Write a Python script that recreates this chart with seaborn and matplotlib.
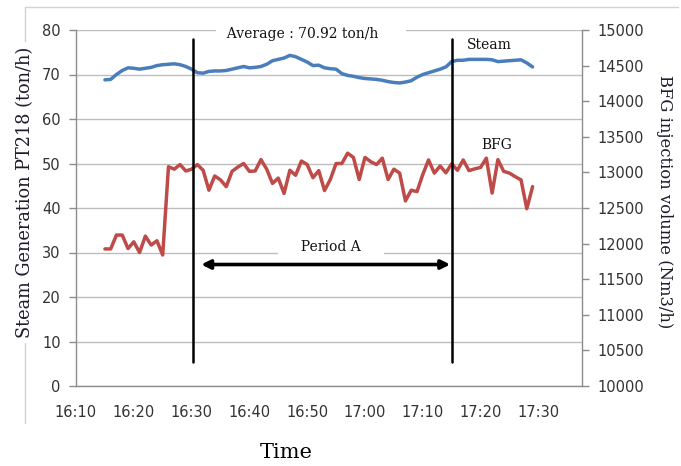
import matplotlib
matplotlib.use("Agg")
import matplotlib.pyplot as plt
import matplotlib.dates as mdates
from matplotlib.lines import Line2D
import seaborn as sns
import pandas as pd
import numpy as np

# ---------------- data ----------------
start_time = "2000-01-01 16:15"
n_points = 75  # one sample per minute, 16:15 .. 17:29

steam = [68.8, 68.9, 70.0, 70.9, 71.5, 71.4, 71.2, 71.4, 71.6, 72.0,
         72.2, 72.3, 72.4, 72.2, 71.8, 71.2, 70.4, 70.3, 70.7, 70.8,
         70.8, 70.9, 71.2, 71.5, 71.8, 71.5, 71.6, 71.8, 72.3, 73.1,
         73.4, 73.7, 74.3, 74.0, 73.4, 72.8, 72.0, 72.1, 71.5, 71.3,
         71.2, 70.2, 69.8, 69.6, 69.3, 69.1, 69.0, 68.9, 68.7, 68.4,
         68.2, 68.1, 68.3, 68.6, 69.4, 70.0, 70.4, 70.8, 71.2, 71.7,
         72.9, 73.2, 73.2, 73.4, 73.4, 73.4, 73.4, 73.3, 72.9, 73.0,
         73.1, 73.2, 73.3, 72.6, 71.7]

bfg = [11925, 11925, 12120, 12120, 11930, 12025, 11875, 12105, 11980, 12040,
       11840, 13080, 13045, 13110, 13020, 13045, 13110, 13030, 12750, 12950,
       12895, 12800, 13015, 13075, 13125, 13015, 13020, 13180, 13045, 12845,
       12920, 12705, 13030, 12960, 13160, 13110, 12925, 13025, 12745, 12900,
       13125, 13125, 13270, 13210, 12900, 13210, 13150, 13110, 13200, 12900,
       13045, 12990, 12600, 12750, 12730, 12970, 13175, 12990, 13090, 12995,
       13120, 13030, 13175, 13025, 13050, 13070, 13200, 12710, 13180, 13015,
       12990, 12940, 12895, 12490, 12800]

x_tick_labels = ["16:10", "16:20", "16:30", "16:40", "16:50",
                 "17:00", "17:10", "17:20", "17:30"]
left_ticks = [0, 10, 20, 30, 40, 50, 60, 70, 80]
right_ticks = [10000, 10500, 11000, 11500, 12000, 12500, 13000, 13500, 14000, 14500, 15000]

period_start = "2000-01-01 16:30:18"
period_end = "2000-01-01 17:15:00"
arrow_start = "2000-01-01 16:31:40"
arrow_end = "2000-01-01 17:14:45"
average_text = "Average : 70.92 ton/h"

times = pd.date_range(start_time, periods=n_points, freq="1min")
df = pd.DataFrame({"time": times, "steam": steam, "bfg": bfg})

def T(s):
    return mdates.date2num(pd.Timestamp(s))

# ---------------- figure ----------------
sns.set_style("white")
plt.rcParams["font.family"] = ["DejaVu Sans"]

fig = plt.figure(figsize=(6.81, 4.66), dpi=100)
ax = fig.add_axes([76 / 681, 1 - 386 / 466, (581.7 - 76) / 681, (386 - 30) / 466])
ax2 = ax.twinx()

grid_c = "#BDBDBD"
spine_c = "#8C8C8C"
steam_c = "#4A7EBB"
bfg_c = "#BE4B48"
tick_c = "#333333"
serif = ["DejaVu Serif"]

sns.lineplot(data=df, x="time", y="steam", ax=ax, color=steam_c, lw=2.5, zorder=4)
sns.lineplot(data=df, x="time", y="bfg", ax=ax2, color=bfg_c, lw=2.5, zorder=4)

ax.set_ylim(0, 80)
ax2.set_ylim(10000, 15000)
ax.set_xlim(T("2000-01-01 16:10"), T("2000-01-01 17:37:30"))
ax.set_yticks(left_ticks)
ax2.set_yticks(right_ticks)
ax.xaxis.set_major_locator(mdates.MinuteLocator(byminute=[0, 10, 20, 30, 40, 50]))
ax.xaxis.set_major_formatter(mdates.DateFormatter("%H:%M"))

ax.set_xlabel("")
ax.set_ylabel("")
ax2.set_ylabel("")

ax.yaxis.grid(True, color=grid_c, lw=1)
ax.set_axisbelow(True)

for a in (ax, ax2):
    for s in a.spines.values():
        s.set_visible(False)
ax.spines["left"].set_visible(True)
ax.spines["bottom"].set_visible(True)
ax2.spines["right"].set_visible(True)
for s in (ax.spines["left"], ax.spines["bottom"], ax2.spines["right"]):
    s.set_color(spine_c)
    s.set_linewidth(1)

ax.tick_params(axis="both", direction="out", length=5, width=1, color=spine_c,
               labelsize=10.5, labelcolor=tick_c, pad=6)
ax2.tick_params(axis="y", direction="out", length=5, width=1, color=spine_c,
                labelsize=10.5, labelcolor=tick_c, pad=6)
ax.tick_params(axis="x", pad=9)
ax.tick_params(axis="x", length=5)

# period lines and arrow (drawn on top axis, in left-axis data coords)
for p in (period_start, period_end):
    ax2.plot([T(p), T(p)], [5.4, 78.0], color="black", lw=1.8,
             transform=ax.transData, zorder=6)

ax2.annotate("", xy=(T(arrow_end), 27.3), xytext=(T(arrow_start), 27.3),
             xycoords=ax.transData, textcoords=ax.transData,
             arrowprops=dict(arrowstyle="<|-|>", color="black", lw=2.6,
                             mutation_scale=13, shrinkA=0, shrinkB=0),
             zorder=7)

ax.text(T("2000-01-01 16:54:10"), 31.3, "     Period A     ", ha="center", va="center",
        family=serif, fontsize=10, color="#111111",
        bbox=dict(boxstyle="square,pad=0.1", fc="white", ec="none"), zorder=3)
ax.text(T("2000-01-01 16:50:40"), 79.0, "  " + average_text + "      ", ha="center", va="center",
        family=serif, fontsize=10, color="#111111",
        bbox=dict(boxstyle="square,pad=0.1", fc="white", ec="none"), zorder=3)
ax.text(T("2000-01-01 17:21:35"), 76.6, "Steam", ha="center", va="center",
        family=serif, fontsize=10, color="#111111", zorder=5)
ax.text(T("2000-01-01 17:22:45"), 54.2, "BFG", ha="center", va="center",
        family=serif, fontsize=10, color="#111111", zorder=5)

# chart frame (partial, light grey)
frame_c = "#D3D3D3"
fig.add_artist(Line2D([25 / 681, 25 / 681], [1 - 7 / 466, 1 - 423 / 466],
                      transform=fig.transFigure, color=frame_c, lw=1))
fig.add_artist(Line2D([25 / 681, 678 / 681], [1 - 7 / 466, 1 - 7 / 466],
                      transform=fig.transFigure, color=frame_c, lw=1))

fig.text(25 / 681, 1 - 192.5 / 466, "Steam Generation PT218 (ton/h)", rotation=90,
         ha="center", va="center", family=serif, fontsize=12.8, color="#1c1c2c",
         bbox=dict(boxstyle="square,pad=0.3", fc="white", ec="none"), zorder=10)
fig.text(665 / 681, 1 - 202 / 466, "BFG injection volume (Nm3/h)", rotation=270,
         ha="center", va="center", family=serif, fontsize=11.8, color="#1c1c2c")
fig.text(286 / 681, 1 - 452 / 466, "Time", ha="center", va="center",
         family=serif, fontsize=15, color="black")

fig.savefig("out.png", dpi=100)
